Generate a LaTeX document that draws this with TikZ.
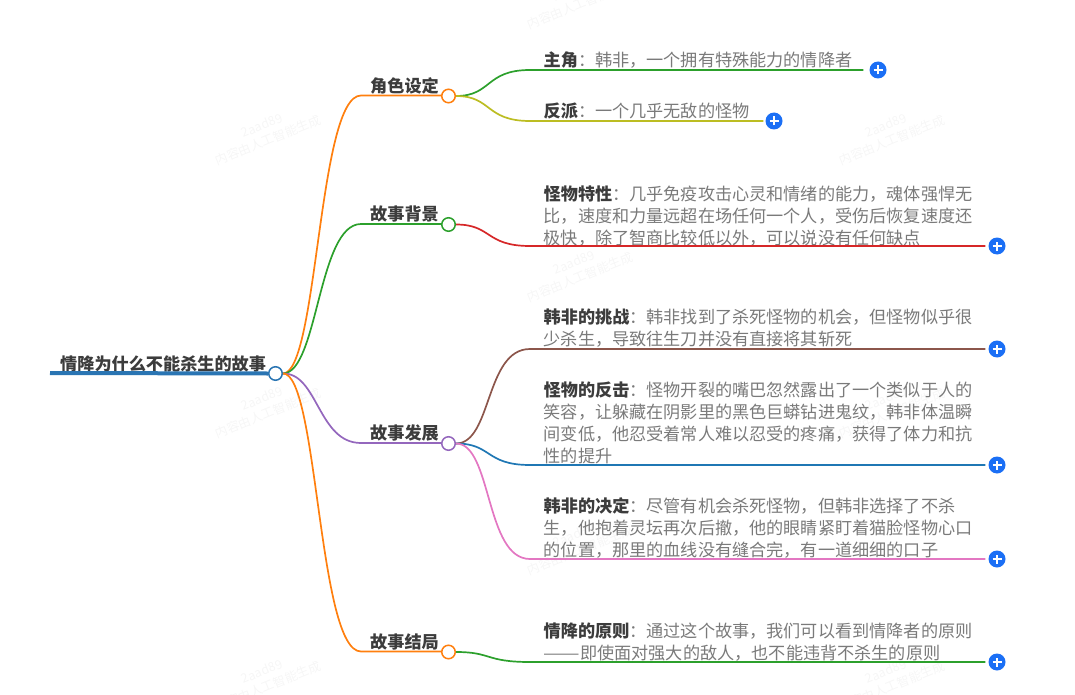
\documentclass[tikz,border=0pt]{standalone}
\usepackage{fontspec}
\setmainfont{Noto Sans CJK SC}
\lineskiplimit=-20pt
\normallineskiplimit=-20pt
\definecolor{txt}{HTML}{7A7A7A}
\definecolor{head}{HTML}{3C3C3C}
\definecolor{plusblue}{HTML}{1B6FF5}
\definecolor{rootb}{HTML}{2A75B3}
\definecolor{corange}{HTML}{FF7F0E}
\definecolor{cgreen}{HTML}{2CA02C}
\definecolor{cpurple}{HTML}{9467BD}
\definecolor{cred}{HTML}{D62728}
\definecolor{cbrown}{HTML}{8C564B}
\definecolor{cblue}{HTML}{1F77B4}
\definecolor{cpink}{HTML}{E377C2}
\definecolor{colive}{HTML}{BCBD22}
\definecolor{wmark}{HTML}{F6F6F6}
\tikzset{
  x=1pt,y=-1pt,
  rootlabel/.style={anchor=south west,inner sep=0pt,font=\fontsize{17.15}{20}\selectfont\bfseries,text=head},
  branchlabel/.style={anchor=south west,inner sep=0pt,font=\fontsize{17.15}{20}\selectfont\bfseries,text=head},
  leaftext/.style={anchor=north west,inner sep=0pt,align=left,text width=440pt,font=\fontsize{17.15}{21.9}\selectfont,text=txt},
  dot/.style={circle,draw=#1,fill=white,line width=1.5pt,minimum size=13.5pt,inner sep=0pt},
  wire/.style={draw=#1,line width=1.7pt},
  addbtn/.style={circle,fill=plusblue,minimum size=17pt,inner sep=0pt,
    path picture={\draw[white,line width=1.6pt] ([xshift=-4.5pt]path picture bounding box.center)--([xshift=4.5pt]path picture bounding box.center);
    \draw[white,line width=1.6pt] ([yshift=-4.5pt]path picture bounding box.center)--([yshift=4.5pt]path picture bounding box.center);}},
  mark1/.style={rotate=22,text=wmark,align=center,inner sep=0pt,font=\fontsize{12.5}{16}\selectfont},
}
\newcommand{\bl}[1]{{\color{head}\bfseries #1}}
\begin{document}
\begin{tikzpicture}
\useasboundingbox (0,0) rectangle (1075,695);
\begin{scope}
\clip (0,0) rectangle (1075,695);
\foreach \i/\mx/\my in {a/265/133,b/265/406,c/265/679,d/577/-3,e/577/270,f/577/543,g/889/133,h/889/406,i/889/679}{
  \node[mark1] (wm\i) at (\mx,\my) {2aad89\\内容由人工智能生成};
}
\end{scope}
% root
\coordinate (rootstart) at (50,373);
\node[dot=rootb] (rootdot) at (275.5,373.5) {};
\node[rootlabel] (roottext) at (60,372) {情降为什么不能杀生的故事};
\draw[rootb,line width=4pt] (rootstart) -- (rootdot.west);
% branches
\coordinate (e1) at (361,95.5);
\coordinate (e2) at (361,224);
\coordinate (e3) at (361,443);
\coordinate (e4) at (361,651.5);
\draw[wire=corange] (rootdot.east) .. controls (318,373) and (318,95.5) .. (e1) -- (448,95.5);
\draw[wire=cgreen] (rootdot.east) .. controls (318,373) and (318,224) .. (e2) -- (448,224);
\draw[wire=cpurple] (rootdot.east) .. controls (318,373) and (318,443) .. (e3) -- (448,443);
\draw[wire=corange] (rootdot.east) .. controls (318,373) and (318,651.5) .. (e4) -- (448,651.5);
\node[dot=corange] (b1) at (448.5,96) {};
\node[dot=cgreen] (b2) at (448.5,224.5) {};
\node[dot=cpurple] (b3) at (448.5,443.5) {};
\node[dot=corange] (b4) at (448.5,652) {};
\node[branchlabel] (t1) at (370,94) {角色设定};
\node[branchlabel] (t2) at (370,222.5) {故事背景};
\node[branchlabel] (t3) at (370,441.5) {故事发展};
\node[branchlabel] (t4) at (370,650) {故事结局};
% add buttons
\node[addbtn] (p1) at (878,70) {};
\node[addbtn] (p2) at (774,121) {};
\node[addbtn] (p3) at (997,246) {};
\node[addbtn] (p4) at (997,349) {};
\node[addbtn] (p5) at (997,465) {};
\node[addbtn] (p6) at (997,559) {};
\node[addbtn] (p7) at (997,662) {};
% leaf text
\node[leaftext] (l1) at (543.5,52) {\bl{主角}：韩非，一个拥有特殊能力的情降者};
\node[leaftext] (l2) at (543.5,103) {\bl{反派}：一个几乎无敌的怪物};
\node[leaftext] (l3) at (543.5,185.5) {\bl{怪物特性}：几乎免疫攻击心灵和情绪的能力，魂体强悍无\\比，速度和力量远超在场任何一个人，受伤后恢复速度还\\极快，除了智商比较低以外，可以说没有任何缺点};
\node[leaftext] (l4) at (543.5,309) {\bl{韩非的挑战}：韩非找到了杀死怪物的机会，但怪物似乎很\\少杀生，导致往生刀并没有直接将其斩死};
\node[leaftext] (l5) at (543.5,382) {\bl{怪物的反击}：怪物开裂的嘴巴忽然露出了一个类似于人的\\笑容，让躲藏在阴影里的黑色巨蟒钻进鬼纹，韩非体温瞬\\间变低，他忍受着常人难以忍受的疼痛，获得了体力和抗\\性的提升};
\node[leaftext] (l6) at (543.5,497.5) {\bl{韩非的决定}：尽管有机会杀死怪物，但韩非选择了不杀\\生，他抱着灵坛再次后撤，他的眼睛紧盯着猫脸怪物心口\\的位置，那里的血线没有缝合完，有一道细细的口子};
\node[leaftext] (l7) at (543.5,623) {\bl{情降的原则}：通过这个故事，我们可以看到情降者的原则\\\scalebox{1.27}[1]{——}即使面对强大的敌人，也不能违背不杀生的原则};
% leaf connectors
\coordinate (c1) at (530,70);
\coordinate (c2) at (530,121);
\coordinate (c3) at (530,246);
\coordinate (c4) at (530,349);
\coordinate (c5) at (530,465);
\coordinate (c6) at (530,559);
\coordinate (c7) at (530,662);
\draw[wire=cgreen] (b1.east) .. controls (492,96) and (485,70) .. (c1) -- ([xshift=-6pt]p1.west);
\draw[wire=colive] (b1.east) .. controls (492,96) and (485,121) .. (c2) -- ([xshift=-2pt]p2.west);
\draw[wire=cred] (b2.east) .. controls (492,224.5) and (485,246) .. (c3) -- ([xshift=-3pt]p3.west);
\draw[wire=cbrown] (b3.east) .. controls (492,443.5) and (485,349) .. (c4) -- ([xshift=-3pt]p4.west);
\draw[wire=cblue] (b3.east) .. controls (492,443.5) and (485,465) .. (c5) -- ([xshift=-3pt]p5.west);
\draw[wire=cpink] (b3.east) .. controls (492,443.5) and (485,559) .. (c6) -- ([xshift=-3pt]p6.west);
\draw[wire=cgreen] (b4.east) .. controls (492,652) and (485,662) .. (c7) -- ([xshift=-3pt]p7.west);
\end{tikzpicture}
\end{document}
